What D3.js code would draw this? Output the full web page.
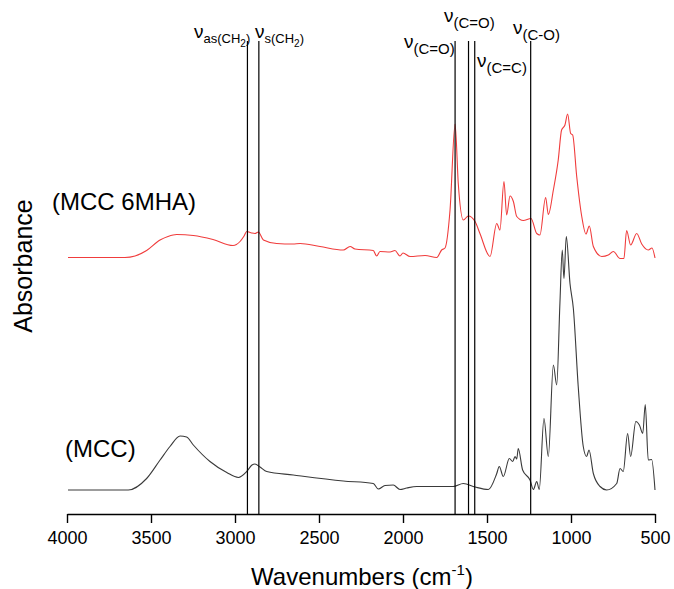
<!DOCTYPE html>
<html><head><meta charset="utf-8">
<script src="https://cdn.jsdelivr.net/npm/d3@7"></script>
<style>body{margin:0;background:#fff}svg{display:block;font-family:"Liberation Sans",Arial,sans-serif}</style>
</head><body><svg id="c" width="674" height="589"></svg>
<script>
// ---- data (absorbance, arbitrary units, spectra vertically offset) ----
const wnRed = [3994,3804,3655,3595,3526,3446,3399,3347,3248,3131,3012,2970,2946,2930,2901,2881,2861,2831,2752,2655,2613,2494,2355,2315,2286,2177,2157,2137,2077,2048,2018,2000,1958,1869,1799,1770,1750,1720,1690,1671,1641,1611,1571,1542,1482,1442,1423,1399,1383,1363,1343,1323,1284,1238,1204,1185,1151,1135,1105,1076,1056,1036,1020,1002,990,966,936,911,891,867,817,778,748,708,685,669,645,609,579,540,518,500];
const absRed = [0.513,0.513,0.513,0.516,0.527,0.548,0.555,0.559,0.557,0.549,0.537,0.545,0.556,0.565,0.562,0.561,0.564,0.548,0.541,0.540,0.541,0.535,0.528,0.535,0.530,0.527,0.516,0.525,0.524,0.527,0.516,0.522,0.515,0.517,0.513,0.528,0.532,0.608,0.780,0.661,0.588,0.596,0.585,0.561,0.515,0.581,0.568,0.665,0.598,0.636,0.625,0.595,0.587,0.591,0.561,0.558,0.633,0.599,0.648,0.708,0.768,0.778,0.800,0.761,0.758,0.675,0.595,0.560,0.576,0.535,0.515,0.518,0.525,0.511,0.511,0.567,0.538,0.561,0.540,0.528,0.532,0.512];
const wnBlack = [3994,3804,3635,3526,3446,3387,3327,3288,3248,3149,3049,2980,2930,2899,2881,2851,2811,2653,2355,2177,2147,2107,2058,2018,1978,1918,1701,1641,1571,1492,1442,1427,1403,1367,1347,1333,1323,1314,1288,1244,1224,1204,1189,1161,1135,1105,1085,1066,1052,1042,1028,1006,986,957,927,907,893,867,827,788,728,708,689,663,645,614,593,573,558,540,520,500];
const absBlack = [0.048,0.048,0.048,0.071,0.108,0.135,0.156,0.154,0.138,0.105,0.083,0.073,0.085,0.098,0.100,0.094,0.085,0.078,0.066,0.061,0.050,0.057,0.058,0.049,0.052,0.055,0.055,0.061,0.054,0.049,0.081,0.095,0.075,0.111,0.105,0.115,0.110,0.131,0.088,0.068,0.049,0.065,0.049,0.191,0.115,0.298,0.258,0.421,0.528,0.471,0.555,0.461,0.411,0.255,0.135,0.115,0.128,0.081,0.055,0.048,0.061,0.091,0.085,0.161,0.115,0.185,0.178,0.161,0.219,0.108,0.109,0.048];
const bandWn = [2926, 2858, 1690, 1610, 1573, 1240];
const xTicks = [4000,3500,3000,2500,2000,1500,1000,500];
const seriesNames = ["(MCC 6MHA)", "(MCC)"];

const svg = d3.select("#c");
const x = d3.scaleLinear().domain([4000, 500]).range([67, 655]);
const y = d3.scaleLinear().domain([0, 1]).range([514, 14]);

const line = d3.line().x(d => x(d[0])).y(d => y(d[1])).curve(d3.curveMonotoneX);
const redData = wnRed.map((w, i) => [w, absRed[i]]);
const blackData = wnBlack.map((w, i) => [w, absBlack[i]]);

svg.append("path").datum(blackData).attr("d", line)
  .attr("fill", "none").attr("stroke", "#3a3a3a").attr("stroke-width", 1.1);
svg.append("path").datum(redData).attr("d", line)
  .attr("fill", "none").attr("stroke", "#f03c3c").attr("stroke-width", 1.1);

// band lines
svg.selectAll("line.band").data(bandWn).enter().append("line")
  .attr("class", "band")
  .attr("x1", d => x(d)).attr("x2", d => x(d))
  .attr("y1", 41).attr("y2", 514)
  .attr("stroke", "#000").attr("stroke-width", 1.2);

// axis
const ax = svg.append("g").attr("transform", "translate(0,514)")
  .call(d3.axisBottom(x).tickValues(xTicks).tickSize(9).tickPadding(8).tickSizeOuter(0).tickFormat(d3.format("d")));
ax.select(".domain").attr("stroke", "#000").attr("stroke-width", 1.4);
ax.selectAll(".tick line").attr("stroke", "#000").attr("stroke-width", 1.4);
ax.selectAll(".tick text").attr("font-size", 18).attr("fill", "#000")
  .attr("font-family", '"Liberation Sans",Arial,sans-serif');

// axis titles
const xt = svg.append("text").attr("x", 362).attr("y", 585).attr("text-anchor", "middle")
  .attr("font-size", 24).attr("fill", "#000");
xt.append("tspan").text("Wavenumbers (cm");
xt.append("tspan").attr("font-size", 15).attr("dy", -10).text("-1");
xt.append("tspan").attr("dy", 10).text(")");

svg.append("text").attr("transform", "translate(32,266) rotate(-90)")
  .attr("text-anchor", "middle").attr("font-size", 25).attr("fill", "#000").text("Absorbance");

// series labels
svg.append("text").attr("x", 52).attr("y", 210).attr("font-size", 24).attr("fill", "#000").text(seriesNames[0]);
svg.append("text").attr("x", 65).attr("y", 457).attr("font-size", 24).attr("fill", "#000").text(seriesNames[1]);

// band labels
function nuLabel(xp, yp, sub, anchor, small) {
  const t = svg.append("text").attr("x", xp).attr("y", yp).attr("fill", "#000").attr("text-anchor", anchor || "start");
  t.append("tspan").attr("font-size", 19).text("ν");
  if (small) {
    t.append("tspan").attr("font-size", 13).attr("dy", 5).text(sub + "(CH");
    t.append("tspan").attr("font-size", 10).attr("dy", 4).text("2");
    t.append("tspan").attr("font-size", 13).attr("dy", -4).text(")");
  } else {
    t.append("tspan").attr("font-size", 15).attr("dy", 6).text(sub);
  }
  return t;
}
nuLabel(194, 38, "as", "start", true);
nuLabel(255, 38, "s", "start", true);
nuLabel(404, 48, "(C=O)");
nuLabel(444, 22, "(C=O)");
nuLabel(477, 67, "(C=C)");
nuLabel(513, 34, "(C-O)");
</script></body></html>
